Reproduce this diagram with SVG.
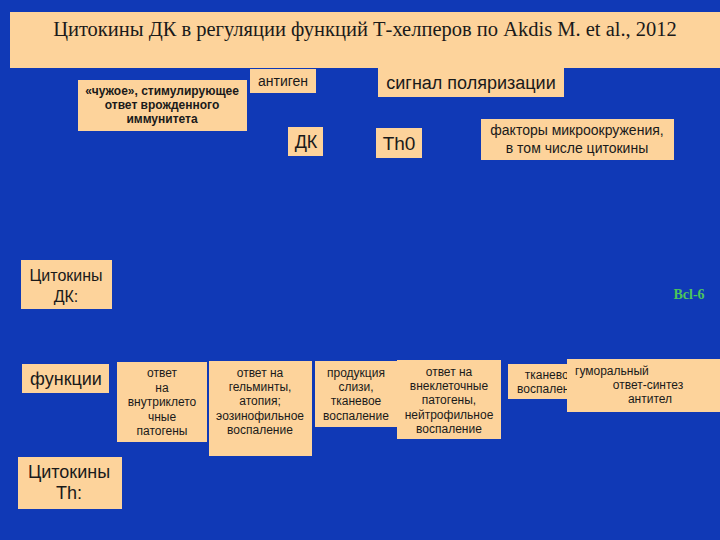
<svg xmlns="http://www.w3.org/2000/svg" width="720" height="540" viewBox="0 0 720 540">
<style>
.bx{fill:#FDD39B;}
.t{font-family:"Liberation Sans",Arial,sans-serif;fill:#1a1a1a;text-anchor:middle;}
.ts{font-family:"Liberation Sans",Arial,sans-serif;fill:#1a1a1a;text-anchor:start;}
.s11{font-size:12px;}
</style>
<defs>
<clipPath id="clipF5"><rect x="508" y="364" width="59" height="35"/></clipPath>
</defs>
<rect x="0" y="0" width="720" height="540" fill="#1039B6"/>
<g id="title">
<rect class="bx" x="10" y="12" width="710" height="56"/>
<text x="365" y="36" font-family="Liberation Serif,Times New Roman,serif" font-size="20.5" fill="#1a1a1a" text-anchor="middle">Цитокины ДК в регуляции функций Т-хелперов по Akdis M. et al., 2012</text>
</g>
<g id="connectors"></g>
<g id="chuzhoe">
<rect class="bx" x="78" y="80" width="169" height="51"/>
<text class="t" font-size="12" font-weight="bold" x="162" y="95">«чужое», стимулирующее</text>
<text class="t" font-size="12" font-weight="bold" x="162" y="109">ответ врожденного</text>
<text class="t" font-size="12" font-weight="bold" x="162" y="123">иммунитета</text>
</g>
<g id="antigen">
<rect class="bx" x="250" y="69" width="66" height="24"/>
<text class="t" font-size="14" x="283" y="86">антиген</text>
</g>
<g id="signal">
<rect class="bx" x="378" y="67" width="186" height="30"/>
<text class="t" font-size="18" x="471" y="89">сигнал поляризации</text>
</g>
<g id="dk">
<rect class="bx" x="288" y="127" width="35" height="29"/>
<text class="t" font-size="18" x="306" y="148">ДК</text>
</g>
<g id="th0">
<rect class="bx" x="376" y="128" width="46" height="30"/>
<text class="t" font-size="19" x="399" y="150">Th0</text>
</g>
<g id="factors">
<rect class="bx" x="481" y="119" width="193" height="41"/>
<text class="t" font-size="14" x="577" y="135">факторы микроокружения,</text>
<text class="t" font-size="14" x="577" y="153">в том числе цитокины</text>
</g>
<g id="cyt-dk">
<rect class="bx" x="21" y="260" width="91" height="49"/>
<text class="t" font-size="16" x="66" y="281">Цитокины</text>
<text class="t" font-size="16" x="66" y="302">ДК:</text>
</g>
<g id="bcl6">
<text x="689" y="299" font-family="Liberation Serif,Times New Roman,serif" font-size="14" font-weight="bold" fill="#4CC55A" text-anchor="middle">Bcl-6</text>
</g>
<g id="functions">
<rect class="bx" x="22" y="364" width="87" height="29"/>
<text class="t" font-size="18" x="66" y="385">функции</text>
</g>
<g id="f1">
<rect class="bx" x="117" y="362" width="90" height="80"/>
<text class="t s11" x="162" y="377">ответ</text>
<text class="t s11" x="162" y="392">на</text>
<text class="t s11" x="162" y="406">внутриклето</text>
<text class="t s11" x="162" y="421">чные</text>
<text class="t s11" x="162" y="435">патогены</text>
</g>
<g id="f2">
<rect class="bx" x="209" y="361" width="103" height="95"/>
<text class="t s11" x="260" y="377">ответ на</text>
<text class="t s11" x="260" y="391">гельминты,</text>
<text class="t s11" x="260" y="405">атопия;</text>
<text class="t s11" x="260" y="420">эозинофильное</text>
<text class="t s11" x="260" y="434">воспаление</text>
</g>
<g id="f3">
<rect class="bx" x="315" y="361" width="82" height="66"/>
<text class="t s11" x="356" y="377">продукция</text>
<text class="t s11" x="356" y="391">слизи,</text>
<text class="t s11" x="356" y="405">тканевое</text>
<text class="t s11" x="356" y="420">воспаление</text>
</g>
<g id="f4">
<rect class="bx" x="397" y="360" width="104" height="79"/>
<text class="t s11" x="449" y="376">ответ на</text>
<text class="t s11" x="449" y="390">внеклеточные</text>
<text class="t s11" x="449" y="404">патогены,</text>
<text class="t s11" x="449" y="419">нейтрофильное</text>
<text class="t s11" x="449" y="433">воспаление</text>
</g>
<g id="f5">
<rect class="bx" x="508" y="364" width="94" height="35"/>
<g clip-path="url(#clipF5)">
<text class="t s11" x="550" y="379">тканевое</text>
<text class="t s11" x="550" y="393">воспаление</text>
</g>
</g>
<g id="f6">
<rect class="bx" x="567" y="359" width="153" height="53"/>
<text class="ts s11" x="575" y="375">гуморальный</text>
<text class="t s11" x="648" y="389">ответ-синтез</text>
<text class="t s11" x="650" y="403">антител</text>
</g>
<g id="cyt-th">
<rect class="bx" x="18" y="457" width="104" height="52"/>
<text class="t" font-size="18" x="69" y="478">Цитокины</text>
<text class="t" font-size="18" x="69" y="499">Th:</text>
</g>
</svg>
